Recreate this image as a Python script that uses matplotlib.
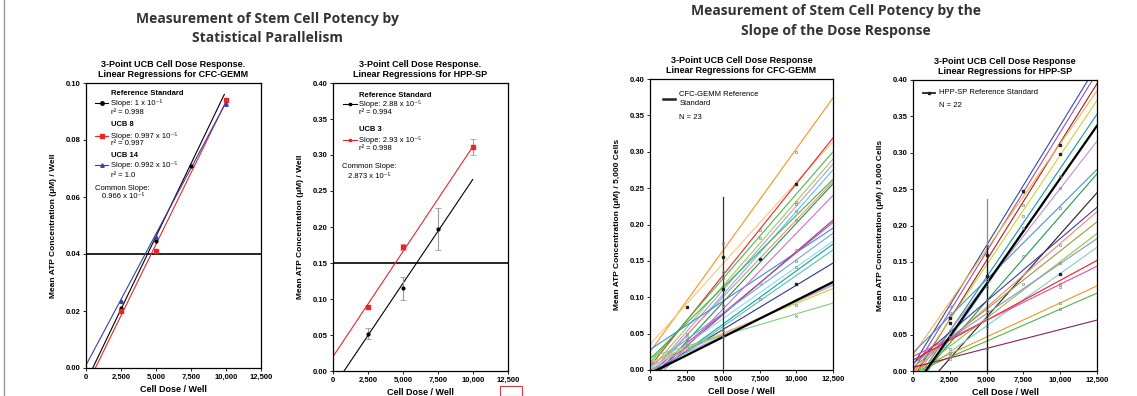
import numpy as np
import matplotlib.pyplot as plt
from matplotlib.lines import Line2D
from matplotlib.patches import Rectangle
from matplotlib.ticker import FuncFormatter, MultipleLocator

plt.rcParams['font.family'] = ['Liberation Sans', 'DejaVu Sans']

# ---------------- Data ----------------
# Panel 1: CFC-GEMM parallelism
p1_ref_x = [2500, 5000, 7500]
p1_ref_y = [0.021, 0.0445, 0.071]
p1_ref_fit_x = [480, 9880]
p1_ref_fit_y = [0.0, 0.096]
p1_ucb8_x = [2500, 5000, 10000]
p1_ucb8_y = [0.020, 0.041, 0.094]
p1_ucb8_fit_x = [665, 10000]
p1_ucb8_fit_y = [0.0, 0.0935]
p1_ucb14_x = [2500, 5000, 10000]
p1_ucb14_y = [0.0235, 0.046, 0.0925]
p1_ucb14_fit_x = [0, 9980]
p1_ucb14_fit_y = [0.001, 0.093]
p1_cut = 0.04

# Panel 2: HPP-SP parallelism
p2_ref_x = [2500, 5000, 7500]
p2_ref_y = [0.052, 0.115, 0.197]
p2_ref_err = [0.008, 0.016, 0.029]
p2_ref_fit_x = [790, 9980]
p2_ref_fit_y = [0.0, 0.266]
p2_ucb3_x = [2500, 5000, 10000]
p2_ucb3_y = [0.089, 0.172, 0.311]
p2_ucb3_err = [0.003, 0.004, 0.011]
p2_ucb3_fit_x = [0, 10000]
p2_ucb3_fit_y = [0.020, 0.312]
p2_cut = 0.15

# Panel 3: CFC-GEMM slopes (value at dose 0 and at 12,500)
fit_x = [0, 12500]
cfc_y0 = [0.025, 0.035, 0.005, 0.010, 0.000, -0.005, -0.010, -0.005, -0.015,
          0.028, -0.010, -0.005, 0.000, -0.010, 0.005, -0.005, 0.010, 0.005,
          0.018, 0.000, -0.010, 0.015, -0.020]
cfc_y1 = [0.374, 0.314, 0.319, 0.300, 0.290, 0.283, 0.275, 0.259, 0.256,
          0.195, 0.206, 0.203, 0.177, 0.173, 0.188, 0.147, 0.112, 0.116,
          0.092, 0.118, 0.165, 0.262, 0.240]
cfc_colors = ['#f7941d', '#fdc57a', '#e8262a', '#4db848', '#9ccb5a', '#b99ad0',
              '#5fc3ee', '#f48a84', '#1a9946', '#3b8ed8', '#7f3f98', '#c2469b',
              '#8fd8f2', '#11a39a', '#6aa7e0', '#2e3192', '#c4d82e', '#f49ac1',
              '#7fcf7a', '#a3a0d0', '#56c1b8', '#39b54a', '#d070c0']
cfc_ref_y0 = -0.005
cfc_ref_y1 = 0.121
cfc_dark_x = [2500, 5000, 7500, 10000, 5000, 10000]
cfc_dark_y = [0.086, 0.156, 0.153, 0.256, 0.111, 0.118]
cfc_pts_x = [2500, 2500, 2500, 2500, 2500, 5000, 5000, 5000, 5000, 5000, 5000,
             5000, 5000, 7500, 7500, 7500, 7500, 10000, 10000, 10000, 10000,
             10000, 10000, 10000, 10000, 10000]
cfc_pts_y = [0.049, 0.046, 0.041, 0.035, 0.030, 0.175, 0.135, 0.127, 0.090,
             0.085, 0.058, 0.055, 0.045, 0.193, 0.181, 0.120, 0.098, 0.300,
             0.231, 0.228, 0.218, 0.206, 0.165, 0.150, 0.142, 0.089]
cfc_pts_x2 = [10000]
cfc_pts_y2 = [0.074]
cfc_bar_top = 0.238

# Panel 4: HPP-SP slopes
hpp_y0 = [0.008, 0.000, -0.010, 0.022, -0.005, -0.020, -0.030, -0.010, 0.025,
          -0.020, -0.040, 0.010, 0.000, 0.005, -0.005, 0.010, -0.010, 0.015,
          0.020, 0.000, -0.003, 0.005]
hpp_y1 = [0.420, 0.410, 0.395, 0.385, 0.372, 0.353, 0.338, 0.316, 0.277,
          0.271, 0.245, 0.225, 0.219, 0.205, 0.189, 0.182, 0.170, 0.152,
          0.144, 0.117, 0.107, 0.070]
hpp_colors = ['#2b4ea2', '#9b4fb0', '#a6192e', '#fbb040', '#c9d33a', '#139a9a',
              '#5bc5f2', '#c08fd0', '#4a90d9', '#1f9a4a', '#231f20', '#3c3f99',
              '#f4877f', '#9a9a3a', '#8dc63f', '#8f8fd0', '#7fd1c8', '#ed1c24',
              '#e8489a', '#f7941d', '#4db848', '#8b2252']
hpp_ref_y0 = -0.025
hpp_ref_y1 = 0.337
hpp_dark_x = [2500, 2500, 5000, 5000, 7500, 10000, 10000, 10000]
hpp_dark_y = [0.066, 0.073, 0.160, 0.130, 0.248, 0.311, 0.298, 0.133]
hpp_pts_x = [2500, 2500, 2500, 2500, 2500, 2500, 2500, 2500, 5000, 5000, 5000,
             5000, 5000, 5000, 5000, 5000, 7500, 7500, 7500, 7500, 7500, 7500,
             10000, 10000, 10000, 10000, 10000, 10000, 10000, 10000, 10000]
hpp_pts_y = [0.089, 0.080, 0.055, 0.047, 0.030, 0.025, 0.020, 0.016, 0.172,
             0.125, 0.115, 0.097, 0.083, 0.072, 0.060, 0.030, 0.246, 0.228,
             0.213, 0.197, 0.158, 0.120, 0.268, 0.252, 0.224, 0.173, 0.148,
             0.120, 0.115, 0.094, 0.085]
hpp_bar_top = 0.237
hpp_bar_dark = 0.172

# ---------------- Figure ----------------
fig = plt.figure(figsize=(11.37, 3.96), dpi=100)
W, H = 1137, 396


def add_ax(x0, x1, ytop, ybot):
    return fig.add_axes([x0 / W, (H - ybot) / H, (x1 - x0) / W, (ybot - ytop) / H])


ax1 = add_ax(86, 261, 83, 368)
ax2 = add_ax(333, 508, 83, 371)
ax3 = add_ax(650, 833, 79, 370)
ax4 = add_ax(913, 1097, 80, 371)

comma = FuncFormatter(lambda v, p: f'{int(v):,}')
two_dec = FuncFormatter(lambda v, p: f'{v:.2f}')

ax1.set_ylim(0, 0.10)
ax1.yaxis.set_major_locator(MultipleLocator(0.02))
for ax in (ax2, ax3, ax4):
    ax.set_ylim(0, 0.40)
    ax.yaxis.set_major_locator(MultipleLocator(0.05))

for ax in (ax1, ax2, ax3, ax4):
    ax.set_xlim(0, 12500)
    ax.xaxis.set_major_locator(MultipleLocator(2500))
    ax.xaxis.set_major_formatter(comma)
    ax.yaxis.set_major_formatter(two_dec)
    ax.tick_params(labelsize=5.5, length=2, width=0.6, pad=2)
    for lab in ax.get_xticklabels() + ax.get_yticklabels():
        lab.set_fontweight('bold')
    for s in ax.spines.values():
        s.set_linewidth(0.9)
    ax.set_xlabel('Cell Dose / Well', fontsize=6.5, fontweight='bold', labelpad=3)

ax1.set_ylabel('Mean ATP Concentration (\u03bcM) / Well', fontsize=6, fontweight='bold', labelpad=6)
ax2.set_ylabel('Mean ATP Concentration (\u03bcM) / Well', fontsize=6, fontweight='bold', labelpad=6)
ax3.set_ylabel('Mean ATP Concentration (\u03bcM) / 5,000 Cells', fontsize=6, fontweight='bold', labelpad=6)
ax4.set_ylabel('Mean ATP Concentration (\u03bcM) / 5,000 Cells', fontsize=6, fontweight='bold', labelpad=6)

ax1.set_title('3-Point UCB Cell Dose Response.\nLinear Regressions for CFC-GEMM', fontsize=6.5, fontweight='bold', pad=4)
ax2.set_title('3-Point Cell Dose Response.\nLinear Regressions for HPP-SP', fontsize=6.5, fontweight='bold', pad=4)
ax3.set_title('3-Point UCB Cell Dose Response\nLinear Regressions for CFC-GEMM', fontsize=6.5, fontweight='bold', pad=4)
ax4.set_title('3-Point UCB Cell Dose Response\nLinear Regressions for HPP-SP', fontsize=6.5, fontweight='bold', pad=4)

BLUE = '#3a3fa8'
RED = '#e8262a'
SUP5 = '10\u207b\u2075'
fs = 5.5

# ---- Panel 1 ----
ax1.axhline(p1_cut, color='black', lw=1.2)
ax1.plot(p1_ref_fit_x, p1_ref_fit_y, color='black', lw=0.8)
ax1.plot(p1_ucb8_fit_x, p1_ucb8_fit_y, color=RED, lw=0.8)
ax1.plot(p1_ucb14_fit_x, p1_ucb14_fit_y, color=BLUE, lw=0.8)
ax1.plot(p1_ref_x, p1_ref_y, 'o', color='black', ms=2)
ax1.plot(p1_ucb8_x, p1_ucb8_y, 's', color=RED, ms=3)
ax1.plot(p1_ucb14_x, p1_ucb14_y, '^', color=BLUE, ms=2.5)

t = ax1.transAxes
rows = [('Reference Standard', 0.964, True, None),
        ('Slope: 1 x ' + SUP5, 0.929, False, ('black', 'o')),
        ('r\u00b2 = 0.998', 0.896, False, None),
        ('UCB 8', 0.853, True, None),
        ('Slope: 0.997 x ' + SUP5, 0.815, False, (RED, 's')),
        ('r\u00b2 = 0.997', 0.786, False, None),
        ('UCB 14', 0.746, True, None),
        ('Slope: 0.992 x ' + SUP5, 0.712, False, (BLUE, '^')),
        ('r\u00b2 = 1.0', 0.677, False, None)]
for txt, yy, bold, sample in rows:
    ax1.text(0.141, yy, txt, transform=t, fontsize=fs, fontweight='bold' if bold else 'normal',
             va='center', ha='left')
    if sample:
        ax1.add_line(Line2D([0.051, 0.127], [yy, yy], transform=t, color=sample[0], lw=0.8))
        ax1.add_line(Line2D([0.089], [yy], transform=t, color=sample[0], marker=sample[1], ms=2.5))
ax1.text(0.051, 0.631, 'Common Slope:', transform=t, fontsize=fs, va='center')
ax1.text(0.09, 0.600, '0.966 x ' + SUP5, transform=t, fontsize=fs, va='center')

# ---- Panel 2 ----
ax2.axhline(p2_cut, color='black', lw=1.2)
ax2.plot(p2_ref_fit_x, p2_ref_fit_y, color='black', lw=0.8)
ax2.plot(p2_ucb3_fit_x, p2_ucb3_fit_y, color=RED, lw=0.8)
ax2.errorbar(p2_ref_x, p2_ref_y, yerr=p2_ref_err, fmt='o', color='black', ms=2,
             ecolor='#9a9a9a', elinewidth=0.8, capsize=2, capthick=0.6)
ax2.errorbar(p2_ucb3_x, p2_ucb3_y, yerr=p2_ucb3_err, fmt='s', color=RED, ms=2.5,
             ecolor='#f08080', elinewidth=0.8, capsize=2, capthick=0.6)
t = ax2.transAxes
rows = [('Reference Standard', 0.956, True, None),
        ('Slope: 2.88 x ' + SUP5, 0.926, False, 'black'),
        ('r\u00b2 = 0.994', 0.897, False, None),
        ('UCB 3', 0.837, True, None),
        ('Slope: 2.93 x ' + SUP5, 0.803, False, RED),
        ('r\u00b2 = 0.998', 0.771, False, None)]
for txt, yy, bold, sample in rows:
    ax2.text(0.150, yy, txt, transform=t, fontsize=fs, fontweight='bold' if bold else 'normal',
             va='center', ha='left')
    if sample:
        ax2.add_line(Line2D([0.059, 0.139], [yy, yy], transform=t, color=sample, lw=0.8))
        ax2.add_line(Line2D([0.099], [yy], transform=t, color=sample, marker='s', ms=2))
ax2.text(0.050, 0.709, 'Common Slope:', transform=t, fontsize=fs, va='center')
ax2.text(0.087, 0.674, '2.873 x ' + SUP5, transform=t, fontsize=fs, va='center')

# ---- Panel 3 ----
for y0, y1, c in zip(cfc_y0, cfc_y1, cfc_colors):
    ax3.plot(fit_x, [y0, y1], color=c, lw=0.8)
ax3.plot(fit_x, [cfc_ref_y0, cfc_ref_y1], color='black', lw=1.6)
ax3.plot([5000, 5000], [0, cfc_bar_top], color='#333333', lw=0.9)
ax3.plot(cfc_pts_x, cfc_pts_y, 's', mfc='none', mec='#8a8a8a', ms=1.9, mew=0.5)
ax3.plot(cfc_pts_x2, cfc_pts_y2, 'x', color='#8a8a8a', ms=2, mew=0.5)
ax3.plot(cfc_dark_x, cfc_dark_y, 's', color='#222222', ms=1.9)
t = ax3.transAxes
ax3.add_line(Line2D([0.073, 0.137], [0.931, 0.931], transform=t, color='#222222', lw=1.8))
ax3.text(0.160, 0.947, 'CFC-GEMM Reference', transform=t, fontsize=fs, va='center')
ax3.text(0.160, 0.916, 'Standard', transform=t, fontsize=fs, va='center')
ax3.text(0.160, 0.868, 'N = 23', transform=t, fontsize=fs, va='center')

# ---- Panel 4 ----
for y0, y1, c in zip(hpp_y0, hpp_y1, hpp_colors):
    ax4.plot(fit_x, [y0, y1], color=c, lw=0.8)
ax4.plot(fit_x, [hpp_ref_y0, hpp_ref_y1], color='black', lw=1.6)
ax4.plot([5000, 5000], [0, hpp_bar_top], color='#8a8a8a', lw=0.9)
ax4.plot([5000, 5000], [0, hpp_bar_dark], color='#111111', lw=0.9)
ax4.plot(hpp_pts_x, hpp_pts_y, 's', mfc='none', mec='#8a8a8a', ms=1.9, mew=0.5)
ax4.plot(hpp_dark_x, hpp_dark_y, 's', color='#222222', ms=1.9)
t = ax4.transAxes
ax4.add_line(Line2D([0.053, 0.120], [0.956, 0.956], transform=t, color='#222222', lw=1.3))
ax4.add_line(Line2D([0.087], [0.956], transform=t, color='#222222', marker='s', ms=2))
ax4.text(0.143, 0.956, 'HPP-SP Reference Standard', transform=t, fontsize=fs, va='center')
ax4.text(0.143, 0.912, 'N = 22', transform=t, fontsize=fs, va='center')

# ---- Headline titles ----
fig.text(267 / W, 1 - 28.5 / H, 'Measurement of Stem Cell Potency by\nStatistical Parallelism',
         ha='center', va='center', fontsize=10, fontweight='bold',
         family=['Open Sans', 'DejaVu Sans'], color='#333333', linespacing=1.5)
fig.text(836 / W, 1 - 21 / H, 'Measurement of Stem Cell Potency by the\nSlope of the Dose Response',
         ha='center', va='center', fontsize=10, fontweight='bold',
         family=['Open Sans', 'DejaVu Sans'], color='#333333', linespacing=1.5)

# left border rule and small logo box
fig.add_artist(Line2D([3.5 / W, 3.5 / W], [0, 1], transform=fig.transFigure, color='#9a9a9a', lw=1))
fig.add_artist(Rectangle((500 / W, 0), 22 / W, 10 / H, transform=fig.transFigure,
                         fill=False, ec='#d04040', lw=0.8))

fig.savefig('out.png', dpi=100)
